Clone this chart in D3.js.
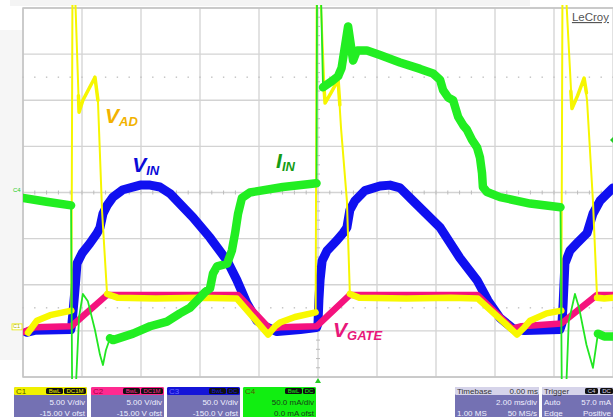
<!DOCTYPE html>
<html><head><meta charset="utf-8">
<script src="https://cdn.jsdelivr.net/npm/d3@7"></script>
<style>
body{margin:0;background:#fff;}
svg{display:block;font-family:"Liberation Sans",Arial,sans-serif;}
</style>
</head><body>
<svg id="chart" width="613" height="417"></svg>
<script>
// ---- timebase / channel settings ----
const msPerDiv = 2, hDivs = 10, vDivs = 8;
const channelNames = ["C1", "C2", "C3", "C4"];
const voltsPerDiv = [5, 5, 50, 50];
const offsets = [-15, -15, -150, 0];
const chanVdivText = ["5.00 V/div", "5.00 V/div", "50.0 V/div", "50.0 mA/div"];
const chanOfstText = ["-15.00 V ofst", "-15.00 V ofst", "-150.0 V ofst", "0.0 mA ofst"];
const chanChips = [["BwL", "DC1M"], ["BwL", "DC1M"], ["BwL", "DC"], ["BwL", "DC"]];
const timebaseText = ["Timebase", "0.00 ms", "2.00 ms/div", "1.00 MS", "50 MS/s"];
const triggerText = ["Trigger", "C4", "DC", "Auto", "57.0 mA", "Edge", "Positive"];

// ---- traces: [time ms, value] ; null separates segments ----
// C1 V_AD (V)
const vadBand = [
  [-9.83,-0.2],[-9.53,1.1],[-9.08,1.7],[-8.36,2.2], null,
  [-7.15,4.0],[-6.8,3.6],[-5.5,3.5],[-4.0,3.6],[-2.75,3.5],[-1.69,-0.4],[-1.45,0.5],[-1.29,0.9],[-0.78,1.5],[-0.08,2.0], null,
  [1.08,4.0],[1.4,3.6],[3.0,3.5],[4.5,3.6],[5.42,3.5],[6.75,-0.4],[7.0,0.4],[7.19,1.1],[7.75,1.9],[8.25,2.2], null,
  [9.46,3.6],[9.7,3.5],[10,3.6]
];
const vadSpike = [
  [-8.36,2.2],[-8.32,40],[-8.27,40],[-8.1,23.7],[-7.97,25.0],[-7.56,27.5],[-7.46,25.0],[-7.32,13.0],[-7.15,4.0], null,
  [-0.08,2.0],[-0.04,40],[0.04,40],[0.24,24.7],[0.44,25.8],[0.68,27.2],[0.78,22.0],[0.98,14.1],[1.08,4.0], null,
  [8.25,2.2],[8.29,40],[8.35,40],[8.61,24.1],[8.8,25.5],[9.02,27.4],[9.12,25.0],[9.32,14.1],[9.46,3.6]
];
// knee of each V_AD spike (drawn slightly heavier)
const vadKnee = [
  [-8.12,25.5],[-8.1,23.7],[-7.97,25.0],[-7.56,27.5],[-7.46,25.0], null,
  [0.2,26.5],[0.24,24.7],[0.44,25.8],[0.68,27.2],[0.74,24.5], null,
  [8.57,26.0],[8.61,24.1],[8.8,25.5],[9.02,27.4],[9.1,25.8]
];
// C2 V_GATE (V)
const vgateBand = [
  [-9.95,-0.1],[-9.6,0.4],[-8.36,0.5],[-7.15,3.9],[-2.71,3.9],[-1.63,0.2],[-1.3,0.4],[-0.05,0.5],
  [1.08,3.9],[5.4,3.9],[6.58,0.25],[6.9,0.5],[8.25,0.8],[9.46,3.9],[10,3.9]
];
// C3 V_IN (V)
const vinBand = [
  [-9.88,-1.5],[-9.6,0.6],[-8.38,1.4],[-8.34,8],[-8.27,33],[-8.24,44],[-8.17,73],[-8.0,84],[-7.73,95],[-7.49,106],
  [-7.39,112],[-7.29,127],[-7.15,136],[-6.95,145],[-6.61,153],[-6.03,158],[-5.69,158],[-5.36,156],[-5.02,149],
  [-4.24,123],[-3.66,101],[-3.08,76],[-2.75,55],[-2.41,30],[-2.07,11],[-1.73,4],[-1.39,-0.8],[-0.6,1.5],[-0.05,3.5],
  [0.0,8],[0.03,33],[0.07,55],[0.14,76],[0.31,87],[0.64,98],[0.85,106],[0.98,112],[1.08,131],[1.25,141],[1.59,152],
  [2.1,157],[2.44,158],[2.78,155],[3.22,141],[4.14,112],[4.81,79],[5.39,55],[5.76,33],[6.17,14],[6.61,2.5],[7.0,0.3],
  [8.2,1.5],[8.27,8],[8.31,30],[8.37,73],[8.54,87],[8.78,95],[9.12,106],[9.32,127],[9.56,141],[9.97,154],[10,155]
];
// C4 I_IN (mA)
const iinBand = [
  [-10,-6],[-9.2,-10],[-8.37,-14], null,
  [-7.05,-158],[-6.95,-160],[-6.27,-153],[-5.69,-145],[-5.12,-140],[-4.68,-131],[-4.34,-125],[-4.1,-117],[-3.83,-108],
  [-3.66,-104],[-3.56,-88],[-3.42,-80],[-3.08,-77],[-2.92,-63],[-2.81,-44],[-2.71,-23],[-2.58,-6],[-2.31,0],[-1.19,6],[-0.05,10], null,
  [0.17,114],[0.44,120],[0.68,126],[0.8,135],[1.02,180],[1.19,143],[1.32,154],[1.66,154],[2.1,149],[2.78,141],[3.46,134],
  [3.9,129],[4.14,122],[4.24,111],[4.41,103],[4.58,100],[4.75,82],[4.92,73],[5.05,68],[5.22,57],[5.39,49],[5.49,38],
  [5.56,21],[5.59,6],[5.73,0.5],[6.17,-5],[7.19,-12],[8.22,-16], null,
  [9.49,-153],[9.7,-156],[10,-156]
];
const iinSpike = [
  [-8.37,-14],[-8.33,-240],[-8.25,-240],[-8.1,-135],[-7.97,-110],[-7.8,-118],[-7.56,-149],[-7.39,-176],[-7.29,-187],[-7.19,-171],[-7.05,-158], null,
  [-0.05,10],[-0.03,260],[0.07,260],[0.17,114], null,
  [8.22,-16],[8.27,-240],[8.38,-240],[8.5,-140],[8.71,-110],[8.85,-125],[9.1,-165],[9.32,-190],[9.49,-153]
];

// ---- labels: anchor [channel, value] ----
const traceLabels = [
  {main:"V", sub:"AD", t:-7.22, v:[0,22.5], color:"#f2b200"},
  {main:"V", sub:"IN", t:-6.3, v:[2,172], color:"#0b0bd8"},
  {main:"I", sub:"IN", t:-1.42, v:[3,27], color:"#159c15"},
  {main:"V", sub:"GATE", t:0.51, v:[1,-0.7], color:"#e8177a"}
];

// ---- drawing ----
const svg = d3.select("#chart");
const plot = {x0:23, x1:613, y0:8, y1:377};
const x = d3.scaleLinear().domain([-msPerDiv*hDivs/2, msPerDiv*hDivs/2]).range([plot.x0, plot.x1]);
const yDiv = d3.scaleLinear().domain([-vDivs/2, vDivs/2]).range([plot.y1, plot.y0]);
const yCh = ch => v => yDiv((v + offsets[ch]) / voltsPerDiv[ch]);

// outside background
svg.append("rect").attr("x",0).attr("y",0).attr("width",613).attr("height",417).attr("fill","#ffffff");
svg.append("rect").attr("x",0).attr("y",30).attr("width",plot.x0-1).attr("height",330).attr("fill","#f6f6f6");
svg.append("rect").attr("x",10).attr("y",0).attr("width",520).attr("height",6).attr("fill","#f4f4f4");
svg.append("rect").attr("x",plot.x0).attr("y",plot.y0).attr("width",plot.x1-plot.x0).attr("height",plot.y1-plot.y0).attr("fill","#fff");

// grid
const g = svg.append("g");
const xTicks = d3.range(-hDivs/2, hDivs/2+1).map(d => d*msPerDiv);
g.selectAll("line.vx").data(xTicks).join("line")
  .attr("x1",d=>x(d)).attr("x2",d=>x(d)).attr("y1",plot.y0).attr("y2",plot.y1)
  .attr("stroke","#d3d3d3").attr("stroke-width",1.3);
g.selectAll("line.hy").data(d3.range(-vDivs/2, vDivs/2+1)).join("line")
  .attr("x1",plot.x0).attr("x2",plot.x1).attr("y1",d=>yDiv(d)).attr("y2",d=>yDiv(d))
  .attr("stroke","#d3d3d3").attr("stroke-width",1.3);
g.append("rect").attr("x",plot.x0).attr("y",plot.y0).attr("width",plot.x1-plot.x0+2).attr("height",plot.y1-plot.y0)
  .attr("fill","none").attr("stroke","#c4c4c4").attr("stroke-width",1.5);
// minor ticks on center lines
const minorX = d3.range(-hDivs/2*5, hDivs/2*5+1).map(d => d*msPerDiv/5);
g.selectAll("line.mx").data(minorX).join("line")
  .attr("x1",d=>x(d)).attr("x2",d=>x(d)).attr("y1",yDiv(0)-2).attr("y2",yDiv(0)+2)
  .attr("stroke","#bbbbbb").attr("stroke-width",1);
const minorY = d3.range(-vDivs/2*5, vDivs/2*5+1).map(d => d/5);
g.selectAll("line.my").data(minorY).join("line")
  .attr("x1",x(0)-2).attr("x2",x(0)+2).attr("y1",d=>yDiv(d)).attr("y2",d=>yDiv(d))
  .attr("stroke","#bbbbbb").attr("stroke-width",1);
// dotted rows
[2.5,-2.5].forEach(r => {
  g.selectAll(null).data(minorX).join("rect")
    .attr("x",d=>x(d)-0.7).attr("y",yDiv(r)-0.7).attr("width",1.4).attr("height",1.4).attr("fill","#c0c0c0");
});

// traces
svg.append("clipPath").attr("id","clip").append("rect")
  .attr("x",plot.x0).attr("y",plot.y0-3).attr("width",plot.x1-plot.x0).attr("height",plot.y1-plot.y0+5);
const tr = svg.append("g").attr("clip-path","url(#clip)");
function drawTrace(data, ch, color, width, curve){
  const line = d3.line().defined(d=>d).x(d=>x(d[0])).y(d=>yCh(ch)(d[1])).curve(curve || d3.curveLinear);
  tr.append("path").attr("d", line(data)).attr("fill","none").attr("stroke",color)
    .attr("stroke-width",width).attr("stroke-linejoin","round").attr("stroke-linecap","round");
}
drawTrace(vinBand, 2, "#1010f0", 9);
drawTrace(vgateBand, 1, "#f5127e", 6.5);
drawTrace(vadSpike, 0, "#f6f600", 2);
drawTrace(vadKnee, 0, "#f6f600", 3.5);
drawTrace(vadBand, 0, "#f8f800", 6.5);
drawTrace(iinSpike, 3, "#22e622", 1.8);
drawTrace(iinBand, 3, "#22ee22", 8.5);

// trace labels
traceLabels.forEach(l => {
  const yy = yCh(l.v[0])(l.v[1]);
  const t = svg.append("text").attr("x", x(l.t)).attr("y", yy)
    .attr("fill", l.color).attr("font-weight","bold").attr("font-style","italic").attr("font-size",21);
  t.append("tspan").text(l.main);
  t.append("tspan").attr("font-size",13).attr("dy",3).text(l.sub);
});

// LeCroy
svg.append("text").attr("x",609).attr("y",21).attr("text-anchor","end").attr("font-size",11.5)
  .attr("fill","#555").attr("text-decoration","underline").text("LeCroy");

// small channel markers
svg.append("text").attr("x",13).attr("y",yDiv(0)-1).attr("font-size",6).attr("fill","#22cc22").text(channelNames[3]);
svg.append("rect").attr("x",12).attr("y",yCh(0)(0)-7).attr("width",10).attr("height",6).attr("fill","#fff")
  .attr("stroke","#e8e800").attr("stroke-width",0.8);
svg.append("text").attr("x",13).attr("y",yCh(0)(0)-2.5).attr("font-size",5.5).attr("fill","#b0b000").text(channelNames[0]);
// trigger markers
svg.append("path").attr("d",`M${x(0)-3},${plot.y1+6}L${x(0)+3},${plot.y1+6}L${x(0)},${plot.y1+1}Z`).attr("fill","#22cc22");
svg.append("path").attr("d",`M${plot.x1},${yCh(3)(57)-3}L${plot.x1-3},${yCh(3)(57)}L${plot.x1},${yCh(3)(57)+3}Z`).attr("fill","#22cc22");

// channel boxes
const boxX = [14, 91, 167, 243], boxW = 73, boxY = 387, headH = 8;
const headColors = ["#f0f000", "#ff2a90", "#1414d8", "#11ee11"];
const bodyColors = ["#7471b3", "#7471b3", "#7471b3", "#11ee11"];
const textColors = ["#f0f0ff", "#f0f0ff", "#f0f0ff", "#1a3a1a"];
const line1Y = boxY + 17.5, line2Y = boxY + 28.5, bodyFont = 8;
channelNames.forEach((c,i) => {
  const bx = boxX[i];
  svg.append("rect").attr("x",bx).attr("y",boxY).attr("width",boxW).attr("height",417-boxY+4).attr("rx",2).attr("fill",bodyColors[i]);
  svg.append("rect").attr("x",bx).attr("y",boxY).attr("width",boxW).attr("height",headH).attr("rx",1.5).attr("fill",headColors[i]);
  svg.append("text").attr("x",bx+2).attr("y",boxY+7).attr("font-size",8).attr("fill",i===2?"#6a6aff":(i===1?"#a00040":"#555500")).text(c);
  let cx = bx + boxW - 1;
  chanChips[i].slice().reverse().forEach(ch => {
    const w = ch.length*5 + 2;
    cx -= w;
    svg.append("rect").attr("x",cx).attr("y",boxY+1).attr("width",w).attr("height",headH-2).attr("rx",1.5).attr("fill","#111");
    svg.append("text").attr("x",cx+w/2).attr("y",boxY+6.2).attr("text-anchor","middle").attr("font-size",6)
      .attr("fill",headColors[i]).text(ch);
    cx -= 1;
  });
  svg.append("text").attr("x",bx+boxW-2).attr("y",line1Y).attr("text-anchor","end").attr("font-size",bodyFont).attr("fill",textColors[i]).text(chanVdivText[i]);
  svg.append("text").attr("x",bx+boxW-2).attr("y",line2Y).attr("text-anchor","end").attr("font-size",bodyFont).attr("fill",textColors[i]).text(chanOfstText[i]);
});
// timebase box
(function(){
  const bx=455, bw=84;
  svg.append("rect").attr("x",bx).attr("y",boxY).attr("width",bw).attr("height",40).attr("rx",2).attr("fill","#7471b3");
  svg.append("rect").attr("x",bx).attr("y",boxY).attr("width",bw).attr("height",headH).attr("rx",1.5).attr("fill","#d6d4ea");
  svg.append("text").attr("x",bx+2).attr("y",boxY+7).attr("font-size",8).attr("fill","#333").text(timebaseText[0]);
  svg.append("text").attr("x",bx+bw-1).attr("y",boxY+7).attr("text-anchor","end").attr("font-size",8).attr("fill","#333").text(timebaseText[1]);
  svg.append("text").attr("x",bx+bw-2).attr("y",line1Y).attr("text-anchor","end").attr("font-size",bodyFont).attr("fill","#f0f0ff").text(timebaseText[2]);
  svg.append("text").attr("x",bx+2).attr("y",line2Y).attr("font-size",bodyFont).attr("fill","#f0f0ff").text(timebaseText[3]);
  svg.append("text").attr("x",bx+bw-2).attr("y",line2Y).attr("text-anchor","end").attr("font-size",bodyFont).attr("fill","#f0f0ff").text(timebaseText[4]);
})();
// trigger box
(function(){
  const bx=542, bw=76;
  svg.append("rect").attr("x",bx).attr("y",boxY).attr("width",bw).attr("height",40).attr("rx",2).attr("fill","#7471b3");
  svg.append("rect").attr("x",bx).attr("y",boxY).attr("width",bw).attr("height",headH).attr("rx",1.5).attr("fill","#d6d4ea");
  svg.append("text").attr("x",bx+2).attr("y",boxY+7).attr("font-size",8).attr("fill","#333").text(triggerText[0]);
  [[triggerText[1],585],[triggerText[2],600]].forEach(([t,cx]) => {
    svg.append("rect").attr("x",cx).attr("y",boxY+1).attr("width",13).attr("height",headH-2).attr("rx",1.5).attr("fill","#111");
    svg.append("text").attr("x",cx+6.5).attr("y",boxY+6.2).attr("text-anchor","middle").attr("font-size",6).attr("fill","#d6d4ea").text(t);
  });
  svg.append("text").attr("x",bx+2).attr("y",line1Y).attr("font-size",bodyFont).attr("fill","#f0f0ff").text(triggerText[3]);
  svg.append("text").attr("x",613-2).attr("y",line1Y).attr("text-anchor","end").attr("font-size",bodyFont).attr("fill","#f0f0ff").text(triggerText[4]);
  svg.append("text").attr("x",bx+2).attr("y",line2Y).attr("font-size",bodyFont).attr("fill","#f0f0ff").text(triggerText[5]);
  svg.append("text").attr("x",613-2).attr("y",line2Y).attr("text-anchor","end").attr("font-size",bodyFont).attr("fill","#f0f0ff").text(triggerText[6]);
})();
</script>
</body></html>
